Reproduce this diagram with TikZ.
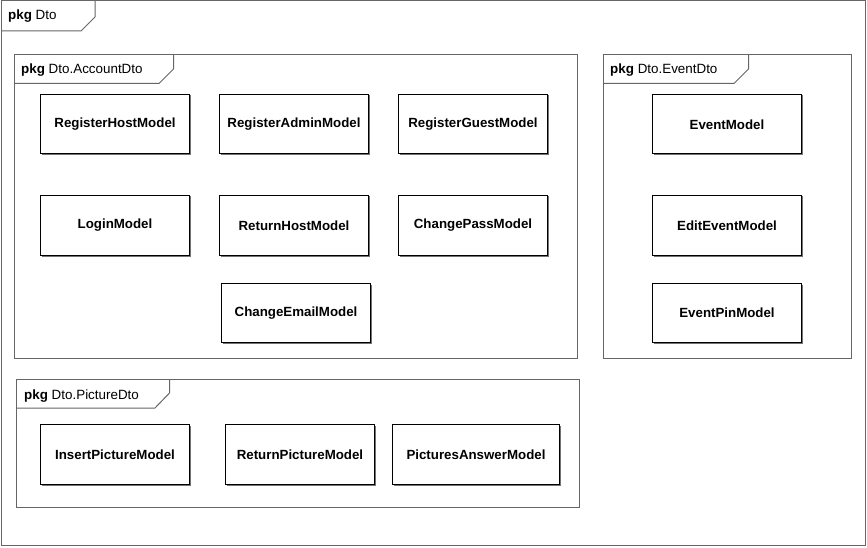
\documentclass[tikz,border=0pt]{standalone}
\usepackage{fontspec}
\setmainfont{Liberation Sans}
\begin{document}
\begin{tikzpicture}[x=1pt,y=-1pt,
  frame/.style={draw=black!60,line width=1pt},
  cls/.style={draw=black,line width=1pt,fill=white,minimum width=149pt,minimum height=60pt,inner sep=0pt,
    font=\fontsize{13.3}{15}\selectfont\bfseries},
  shadow/.style={draw=black!55,line width=1pt},
  lbl/.style={anchor=base west,inner sep=0pt,font=\fontsize{13.4}{15}\selectfont}]
\useasboundingbox (0,0) rectangle (867,548);
% outer package
\draw[frame] (1,1) rectangle (865,545);
\draw[frame] (1,31) -- (81,31) -- (95,17) -- (95,1);
\node[lbl] (lDto) at (8,20) {\textbf{pkg} Dto};
% AccountDto
\draw[frame] (14.5,54.5) rectangle (577,358);
\draw[frame] (14.5,83.5) -- (159,83.5) -- (173.5,69) -- (173.5,54.5);
\node[lbl] (lAcc) at (21,74) {\textbf{pkg} Dto.AccountDto};
% EventDto
\draw[frame] (603.5,54.5) rectangle (851,358);
\draw[frame] (603.5,83.5) -- (734,83.5) -- (748.5,69) -- (748.5,54.5);
\node[lbl] (lEv) at (610,74) {\textbf{pkg} Dto.EventDto};
% PictureDto
\draw[frame] (16.5,379.5) rectangle (579,507);
\draw[frame] (16.5,408) -- (155,408) -- (169.5,393) -- (169.5,379.5);
\node[lbl] (lPic) at (24,399) {\textbf{pkg} Dto.PictureDto};
% class boxes
\newcommand{\clsbox}[5]{%
  \draw[shadow] (#1+1,#4+1) -- (#2+1,#4+1) -- (#2+1,#3+1);
  \node[cls,minimum width={#2-#1},minimum height={#4-#3}] (#5) at ({(#1+#2)/2},{(#3+#4)/2}) {#5};}
\clsbox{40.5}{189.5}{94.5}{154}{RegisterHostModel}
\clsbox{219.5}{368.5}{94.5}{154}{RegisterAdminModel}
\clsbox{398.5}{547.5}{94.5}{154}{RegisterGuestModel}
\clsbox{40.5}{189.5}{195.5}{255}{LoginModel}
\clsbox{219.5}{368.5}{195.5}{255}{ReturnHostModel}
\clsbox{398.5}{547.5}{195.5}{255}{ChangePassModel}
\clsbox{221.5}{370.5}{283.5}{342}{ChangeEmailModel}
\clsbox{652.5}{801.5}{94.5}{154}{EventModel}
\clsbox{652.5}{801.5}{195.5}{255}{EditEventModel}
\clsbox{652.5}{801.5}{283.5}{342}{EventPinModel}
\clsbox{40.5}{189.5}{424.5}{484}{InsertPictureModel}
\clsbox{225.5}{374.5}{424.5}{484}{ReturnPictureModel}
\clsbox{392.5}{559.5}{424.5}{484}{PicturesAnswerModel}
\end{tikzpicture}
\end{document}
